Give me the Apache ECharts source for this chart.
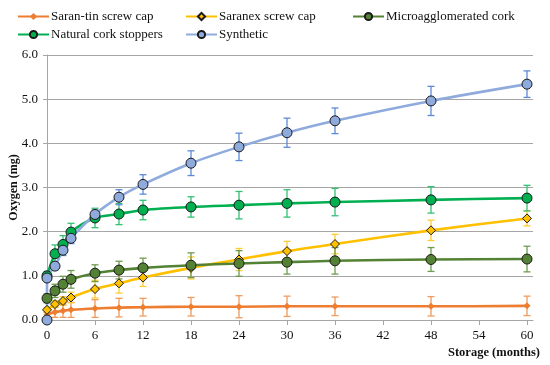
<!DOCTYPE html>
<html>
<head>
<meta charset="utf-8">
<script src="https://cdn.jsdelivr.net/npm/echarts@6/dist/echarts.min.js"></script>
<style>
html,body{margin:0;padding:0;background:#fff;}
#main{width:550px;height:365px;}
</style>
</head>
<body>
<div id="main"></div>
<script>
// ---- data ----
var months = [0, 1, 2, 3, 6, 9, 12, 18, 24, 30, 36, 48, 60];
var xTicks = [0, 6, 12, 18, 24, 30, 36, 42, 48, 54, 60];

var saranTin    = [0.12, 0.18, 0.21, 0.23, 0.26, 0.28, 0.29, 0.30, 0.30, 0.31, 0.31, 0.31, 0.32];
var saranTinErr = [0.05, 0.12, 0.15, 0.17, 0.20, 0.21, 0.20, 0.21, 0.25, 0.23, 0.21, 0.22, 0.22];

var saranex     = [0.23, 0.36, 0.43, 0.51, 0.70, 0.83, 0.96, 1.18, 1.37, 1.56, 1.72, 2.03, 2.30];
var saranexErr  = [0.05, 0.08, 0.10, 0.12, 0.20, 0.22, 0.20, 0.25, 0.25, 0.22, 0.22, 0.23, 0.17];

var micro       = [0.49, 0.66, 0.81, 0.92, 1.06, 1.13, 1.18, 1.24, 1.28, 1.31, 1.34, 1.37, 1.38];
var microErr    = [0.10, 0.15, 0.18, 0.20, 0.19, 0.20, 0.22, 0.28, 0.29, 0.27, 0.30, 0.27, 0.29];

var natural     = [1.00, 1.50, 1.71, 1.99, 2.31, 2.40, 2.49, 2.56, 2.60, 2.64, 2.67, 2.72, 2.76];
var naturalErr  = [0.10, 0.20, 0.20, 0.20, 0.22, 0.24, 0.22, 0.23, 0.31, 0.31, 0.31, 0.30, 0.29];

var synthMonths = [0, 0, 1, 2, 3, 6, 9, 12, 18, 24, 30, 36, 48, 60];
var synthetic   = [0.00, 0.95, 1.22, 1.58, 1.85, 2.39, 2.78, 3.07, 3.55, 3.92, 4.24, 4.51, 4.96, 5.34];
var syntheticErr= [0.00, 0.05, 0.08, 0.12, 0.12, 0.10, 0.17, 0.22, 0.28, 0.31, 0.33, 0.29, 0.33, 0.30];

var names = ['Saran-tin screw cap', 'Saranex screw cap', 'Microagglomerated cork', 'Natural cork stoppers', 'Synthetic'];

// ---- build ----
var FONT = 'Liberation Serif';
function pairs(xs, ys) { return xs.map(function (x, i) { return [x, ys[i]]; }); }
function triples(xs, ys, es) { return xs.map(function (x, i) { return [x, ys[i], es[i]]; }); }

function errSeries(xs, ys, es, color) {
  return {
    type: 'custom',
    z: 1,
    silent: true,
    data: triples(xs, ys, es),
    renderItem: function (params, api) {
      var x = api.value(0), y = api.value(1), e = api.value(2);
      if (!e) return null;
      var top = api.coord([x, y + e]);
      var bot = api.coord([x, y - e]);
      var w = 3.5;
      var st = { stroke: color, lineWidth: 1.3 };
      return {
        type: 'group',
        children: [
          { type: 'line', shape: { x1: top[0], y1: top[1], x2: bot[0], y2: bot[1] }, style: st },
          { type: 'line', shape: { x1: top[0] - w, y1: top[1], x2: top[0] + w, y2: top[1] }, style: st },
          { type: 'line', shape: { x1: bot[0] - w, y1: bot[1], x2: bot[0] + w, y2: bot[1] }, style: st }
        ]
      };
    }
  };
}

function lineSeries(name, xs, ys, color, symbol, size, border) {
  return {
    name: name,
    type: 'line',
    z: 3,
    smooth: 0.3,
    data: pairs(xs, ys),
    symbol: symbol,
    symbolSize: size,
    showAllSymbol: true,
    lineStyle: { color: color, width: 2.6 },
    itemStyle: { color: color, borderColor: border ? '#1a1a1a' : color, borderWidth: border ? 1 : 0, opacity: 1 },
    emphasis: { disabled: true }
  };
}

var colors = ['#ED7D31', '#FFC000', '#548235', '#00B050', '#8FAADC'];
var errColors = ['#F09A5C', '#FFCC33', '#6E9C4E', '#33C073', '#5B8BD8'];

var series = [
  errSeries(months, saranTin, saranTinErr, errColors[0]),
  errSeries(months, saranex, saranexErr, errColors[1]),
  errSeries(months, micro, microErr, errColors[2]),
  errSeries(months, natural, naturalErr, errColors[3]),
  errSeries(synthMonths, synthetic, syntheticErr, errColors[4]),
  lineSeries(names[0], months, saranTin, colors[0], 'diamond', 7, false),
  lineSeries(names[1], months, saranex, colors[1], 'diamond', 9, true),
  lineSeries(names[2], months, micro, colors[2], 'circle', 10, true),
  lineSeries(names[3], months, natural, colors[3], 'circle', 10, true),
  lineSeries(names[4], synthMonths, synthetic, colors[4], 'circle', 10, true)
];

function leg(name, left, top) {
  return {
    data: [name], left: left, top: top, padding: 0,
    itemWidth: 31, itemHeight: 9, itemGap: 0,
    textStyle: { fontFamily: FONT, fontSize: 13, color: '#111', padding: [0, 0, 0, -3] },
    selectedMode: false
  };
}

var option = {
  animation: false,
  backgroundColor: '#fff',
  legend: [
    leg(names[0], 17, 10),
    leg(names[1], 185, 10),
    leg(names[2], 352, 10),
    leg(names[3], 17, 28),
    leg(names[4], 185, 28)
  ],
  grid: { left: 47, right: 17, top: 55, bottom: 45, containLabel: false, outerBoundsMode: 'none' },
  xAxis: {
    type: 'value', min: 0, max: 60.75, interval: 6,
    name: 'Storage (months)',
    nameLocation: 'end', nameGap: 7, nameMoveOverlap: false,
    nameTextStyle: { fontFamily: FONT, fontSize: 12.5, fontWeight: 'bold', color: '#111', align: 'right', verticalAlign: 'top', padding: [26, 0, 0, 0] },
    axisLine: { show: true, lineStyle: { color: '#A6A6A6', width: 1 } },
    axisTick: { show: true, length: 5, lineStyle: { color: '#A6A6A6' }, customValues: xTicks },
    axisLabel: { fontFamily: FONT, fontSize: 13, color: '#111', margin: 9, customValues: xTicks },
    splitLine: { show: false }
  },
  yAxis: {
    type: 'value', min: 0, max: 6, interval: 1,
    name: 'Oxygen (mg)',
    nameLocation: 'middle', nameGap: 27, nameMoveOverlap: false,
    nameTextStyle: { fontFamily: FONT, fontSize: 12, fontWeight: 'bold', color: '#111' },
    axisLine: { show: true, lineStyle: { color: '#A6A6A6', width: 1 } },
    axisTick: { show: true, length: 4, lineStyle: { color: '#A6A6A6' } },
    axisLabel: { fontFamily: FONT, fontSize: 13, color: '#111', margin: 9, formatter: function (v) { return v.toFixed(1); } },
    splitLine: { show: true, lineStyle: { color: '#A6A6A6', width: 1 } }
  },
  series: series
};

var chart = echarts.init(document.getElementById('main'), null, { renderer: 'canvas' });
chart.setOption(option);
</script>
</body>
</html>
